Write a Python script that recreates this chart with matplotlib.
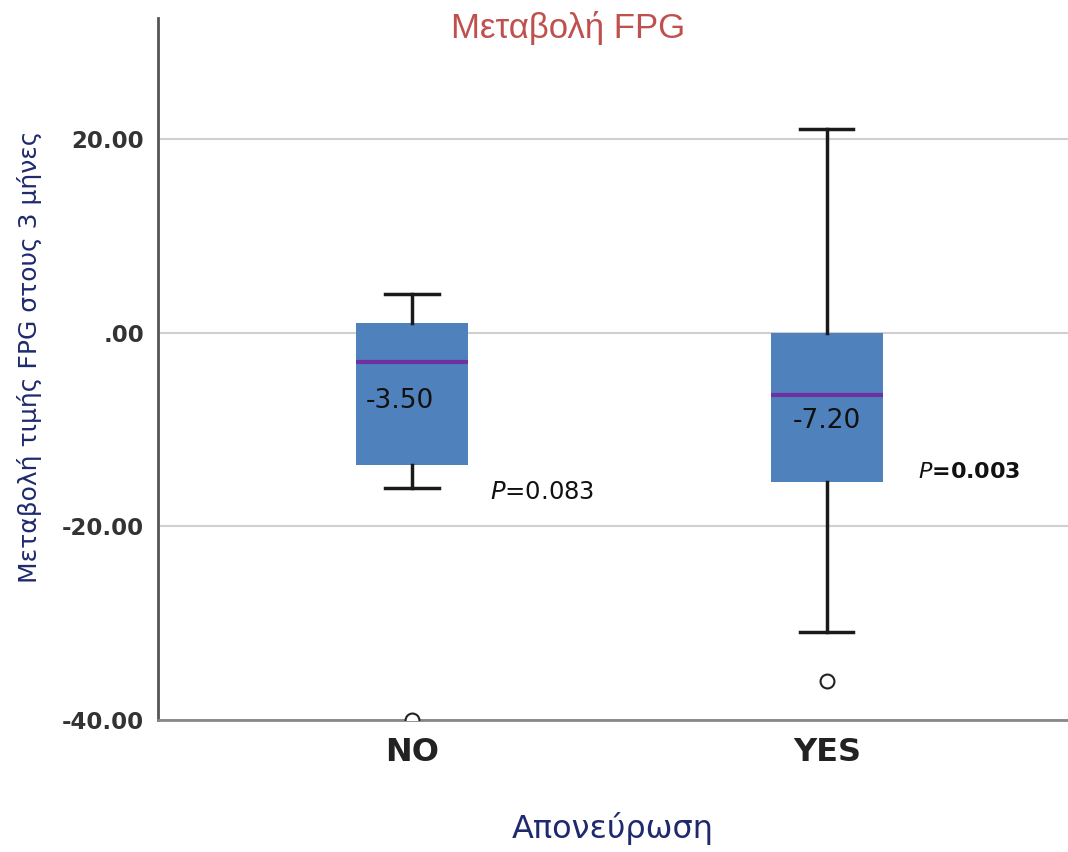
import matplotlib.pyplot as plt

# box statistics
groups = ["NO", "YES"]
q1 = [-13.7, -15.4]
q3 = [1.0, 0.0]
medians = [-3.0, -6.4]
whisker_lo = [-16.0, -30.9]
whisker_hi = [4.0, 21.0]
outliers = [[-40.0], [-36.0]]
median_labels = ["-3.50", "-7.20"]
p_values = ["0.083", "0.003"]

yticks = [-40, -20, 0, 20]
ytick_labels = ["-40.00", "-20.00", ".00", "20.00"]

plt.rcParams['mathtext.fontset'] = 'dejavusans'

fig = plt.figure(figsize=(10.68, 8.52), dpi=100)
ax = fig.add_axes([0.148, 0.155, 0.852, 0.824])

stats = []
for i in range(len(groups)):
    stats.append({
        "label": groups[i],
        "med": medians[i],
        "q1": q1[i],
        "q3": q3[i],
        "whislo": whisker_lo[i],
        "whishi": whisker_hi[i],
        "fliers": outliers[i],
    })

positions = [1, 2]
ax.bxp(stats, positions=positions, widths=0.27, capwidths=0.128,
       patch_artist=True, zorder=3,
       boxprops=dict(facecolor="#4f81bd", edgecolor="#4f81bd", linewidth=0),
       medianprops=dict(color="#7030a0", linewidth=3),
       whiskerprops=dict(color="#1a1a1a", linewidth=2.5),
       capprops=dict(color="#1a1a1a", linewidth=2.5),
       flierprops=dict(marker="o", markerfacecolor="white", markeredgecolor="#222222",
                       markersize=10, markeredgewidth=1.5))

ax.set_xlim(0.388, 2.581)
ax.set_ylim(-40, 32.5)

ax.set_yticks(yticks)
ax.set_yticklabels(ytick_labels, fontsize=16.5, fontweight="bold", color="#333333")
ax.set_xticks(positions)
ax.set_xticklabels(groups, fontsize=23, fontweight="bold", color="#222222")
ax.tick_params(axis="both", length=0)
ax.tick_params(axis="y", pad=10)
ax.tick_params(axis="x", pad=12)

ax.yaxis.grid(True, color="#d0d0d0", linewidth=1.5, zorder=0)
ax.set_axisbelow(True)
for s in ["top", "right"]:
    ax.spines[s].set_visible(False)
ax.spines["left"].set_color("#555555")
ax.spines["left"].set_linewidth(2)
ax.spines["bottom"].set_color("#888888")
ax.spines["bottom"].set_linewidth(2)

# median value labels inside boxes
ax.text(0.97, -7.1, median_labels[0], ha="center", va="center", fontsize=19, color="#111111", zorder=4)
ax.text(2.0, -9.1, median_labels[1], ha="center", va="center", fontsize=19, color="#111111", zorder=4)

# p-values
ax.text(1.188, -16.5, r"$\mathit{P}$=" + p_values[0], ha="left", va="center", fontsize=17.5, color="#111111")
ax.text(2.22, -14.4, r"$\mathbf{\mathit{P}}$=" + p_values[1], ha="left", va="center", fontsize=16,
        fontweight="bold", color="#111111")

ax.set_ylabel("Μεταβολή τιμής FPG στους 3 μήνες", fontsize=18, color="#1f2a6e")
ax.yaxis.set_label_coords(-0.128, 0.517)
ax.set_xlabel("Απονεύρωση", fontsize=23, color="#1f2a6e", labelpad=32)

fig.text(0.532, 0.967, "Μεταβολή FPG", ha="center", va="center", fontsize=25,
         color="#c0504d", family=["Liberation Sans", "DejaVu Sans"])

fig.savefig("out.png", dpi=100)
